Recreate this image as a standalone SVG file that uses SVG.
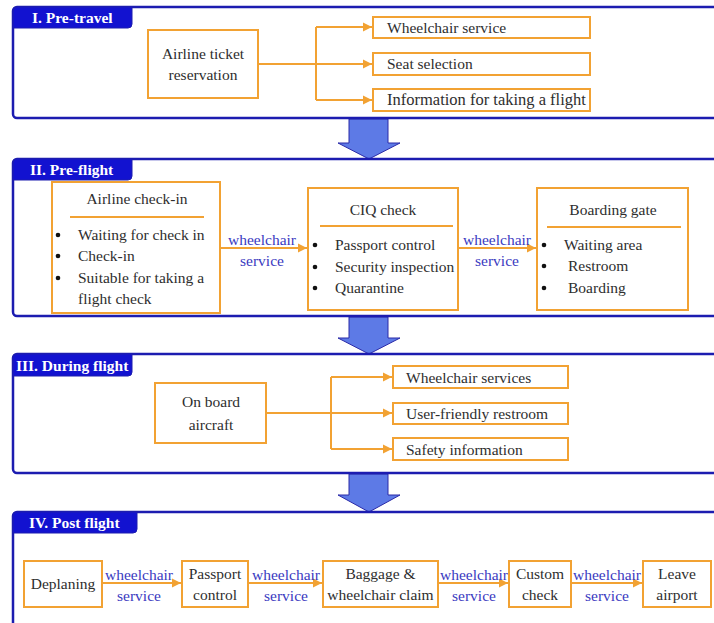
<svg xmlns="http://www.w3.org/2000/svg" width="714" height="623" viewBox="0 0 714 623">
<defs>
<marker id="oa" markerUnits="userSpaceOnUse" markerWidth="10" markerHeight="10" refX="9" refY="5" orient="auto">
<path d="M0,0.5 L9,5 L0,9.5 Z" fill="#F2A233"/>
</marker>
<style>
.frame{fill:none;stroke:#1c1cb0;stroke-width:2.5}
.tab{fill:#1212d0;stroke:#1c1cb0;stroke-width:1}
.tabt{font-family:"Liberation Serif",serif;font-weight:bold;font-size:15.5px;fill:#fff}
.box{fill:#fff;stroke:#F2A233;stroke-width:2}
.t{font-family:"Liberation Serif",serif;font-size:15.5px;fill:#2e2e2e}
.c{text-anchor:middle}
.lbl{font-family:"Liberation Serif",serif;font-size:15.5px;fill:#3a3abf;text-anchor:middle}
.ln{fill:none;stroke:#F2A233;stroke-width:2}
.arr{fill:none;stroke:#F2A233;stroke-width:2;marker-end:url(#oa)}
.sep{stroke:#F2A233;stroke-width:2}
.dot{fill:#111}
.big{fill:#5d7ae6;stroke:#2a2aa8;stroke-width:1}
</style>
</defs>
<rect width="714" height="623" fill="#fff"/>

<g id="flow-arrows">
<polygon class="big" points="349,119 388,119 388,143 400,143 369,159 338,143 349,143"/>
<polygon class="big" points="349,317 388,317 388,338 400,338 369,354 338,338 349,338"/>
<polygon class="big" points="349,474 388,474 388,495 400,495 369,512 338,495 349,495"/>
</g>

<g id="section1">
<rect class="frame" x="13" y="7" width="720" height="111" rx="4"/>
<path class="tab" d="M13,28 V11 Q13,7 17,7 H132 V24 Q132,28 128,28 Z"/>
<text class="tabt" x="32" y="23">I. Pre-travel</text>
</g>
<g id="section2">
<rect class="frame" x="13" y="159" width="720" height="157" rx="4"/>
<path class="tab" d="M13,180 V163 Q13,159 17,159 H132 V176 Q132,180 128,180 Z"/>
<text class="tabt" x="30" y="175">II. Pre-flight</text>
</g>
<g id="section3">
<rect class="frame" x="13" y="354" width="720" height="119" rx="4"/>
<path class="tab" d="M13,376 V358 Q13,354 17,354 H132 V372 Q132,376 128,376 Z"/>
<text class="tabt" x="16" y="371">III. During flight</text>
</g>
<g id="section4">
<rect class="frame" x="13" y="512" width="720" height="130" rx="4"/>
<path class="tab" d="M13,533 V516 Q13,512 17,512 H137 V529 Q137,533 133,533 Z"/>
<text class="tabt" x="29" y="528">IV. Post flight</text>
</g>

<g id="connectors">
<path class="ln" d="M258,64 H316 M316,27 V100"/>
<path class="arr" d="M316,27 H372"/>
<path class="arr" d="M316,64 H372"/>
<path class="arr" d="M316,100 H372"/>
<path class="arr" d="M220,248 H307"/>
<path class="arr" d="M458,248 H536"/>
<path class="ln" d="M266,413 H331 M331,377 V449"/>
<path class="arr" d="M331,377 H392"/>
<path class="arr" d="M331,413 H392"/>
<path class="arr" d="M331,449 H392"/>
<path class="arr" d="M102,583 H181"/>
<path class="arr" d="M248,583 H322"/>
<path class="arr" d="M438,583 H508"/>
<path class="arr" d="M571,583 H642"/>
<text class="lbl" x="262" y="245">wheelchair</text>
<text class="lbl" x="262" y="266">service</text>
<text class="lbl" x="497" y="245">wheelchair</text>
<text class="lbl" x="497" y="266">service</text>
<text class="lbl" x="139" y="580">wheelchair</text>
<text class="lbl" x="139" y="601">service</text>
<text class="lbl" x="286" y="580">wheelchair</text>
<text class="lbl" x="286" y="601">service</text>
<text class="lbl" x="474" y="580">wheelchair</text>
<text class="lbl" x="474" y="601">service</text>
<text class="lbl" x="607" y="580">wheelchair</text>
<text class="lbl" x="607" y="601">service</text>
</g>

<g id="ticket">
<rect class="box" x="148" y="30" width="110" height="68"/>
<text class="t c" x="203" y="59">Airline ticket</text>
<text class="t c" x="203" y="80">reservation</text>
</g>
<g id="wheelchair-service">
<rect class="box" x="373" y="17" width="217" height="21"/>
<text class="t" x="387" y="33">Wheelchair service</text>
</g>
<g id="seat-selection">
<rect class="box" x="373" y="53" width="217" height="22"/>
<text class="t" x="387" y="69">Seat selection</text>
</g>
<g id="flight-info">
<rect class="box" x="373" y="89" width="217" height="22"/>
<text class="t" x="387" y="105" style="font-size:16.5px">Information for taking a flight</text>
</g>

<g id="checkin">
<rect class="box" x="52" y="182" width="168" height="131"/>
<text class="t c" x="137" y="204">Airline check-in</text>
<line class="sep" x1="70" y1="217" x2="204" y2="217"/>
<circle class="dot" cx="58" cy="235" r="2.3"/>
<circle class="dot" cx="58" cy="256" r="2.3"/>
<circle class="dot" cx="58" cy="278" r="2.3"/>
<text class="t" x="78" y="240">Waiting for check in</text>
<text class="t" x="78" y="261">Check-in</text>
<text class="t" x="78" y="283">Suitable for taking a</text>
<text class="t" x="78" y="304">flight check</text>
</g>
<g id="ciq">
<rect class="box" x="308" y="188" width="150" height="122"/>
<text class="t c" x="383" y="215">CIQ check</text>
<line class="sep" x1="320" y1="226" x2="453" y2="226"/>
<circle class="dot" cx="315" cy="245" r="2.3"/>
<circle class="dot" cx="315" cy="267" r="2.3"/>
<circle class="dot" cx="315" cy="288" r="2.3"/>
<text class="t" x="335" y="250">Passport control</text>
<text class="t" x="335" y="272">Security inspection</text>
<text class="t" x="335" y="293">Quarantine</text>
</g>
<g id="boarding">
<rect class="box" x="537" y="188" width="151" height="122"/>
<text class="t c" x="613" y="215">Boarding gate</text>
<line class="sep" x1="547" y1="227" x2="681" y2="227"/>
<circle class="dot" cx="544" cy="245" r="2.3"/>
<circle class="dot" cx="544" cy="266" r="2.3"/>
<circle class="dot" cx="544" cy="288" r="2.3"/>
<text class="t" x="564" y="250">Waiting area</text>
<text class="t" x="568" y="271">Restroom</text>
<text class="t" x="568" y="293">Boarding</text>
</g>

<g id="onboard">
<rect class="box" x="155" y="383" width="111" height="60"/>
<text class="t c" x="211" y="407">On board</text>
<text class="t c" x="211" y="430">aircraft</text>
</g>
<g id="wheelchair-services">
<rect class="box" x="393" y="366" width="175" height="22"/>
<text class="t" x="406" y="383">Wheelchair services</text>
</g>
<g id="restroom">
<rect class="box" x="393" y="403" width="175" height="21"/>
<text class="t" x="406" y="419">User-friendly restroom</text>
</g>
<g id="safety">
<rect class="box" x="393" y="438" width="175" height="22"/>
<text class="t" x="406" y="455">Safety information</text>
</g>

<g id="deplaning">
<rect class="box" x="24" y="561" width="78" height="46"/>
<text class="t c" x="63" y="589">Deplaning</text>
</g>
<g id="passport">
<rect class="box" x="182" y="561" width="66" height="46"/>
<text class="t c" x="215" y="579">Passport</text>
<text class="t c" x="215" y="600">control</text>
</g>
<g id="baggage">
<rect class="box" x="323" y="561" width="115" height="46"/>
<text class="t c" x="380.5" y="579">Baggage &amp;</text>
<text class="t c" x="380.5" y="600">wheelchair claim</text>
</g>
<g id="custom">
<rect class="box" x="509" y="561" width="62" height="46"/>
<text class="t c" x="540" y="579">Custom</text>
<text class="t c" x="540" y="600">check</text>
</g>
<g id="leave">
<rect class="box" x="643" y="561" width="68" height="46"/>
<text class="t c" x="677" y="579">Leave</text>
<text class="t c" x="677" y="600">airport</text>
</g>
</svg>
